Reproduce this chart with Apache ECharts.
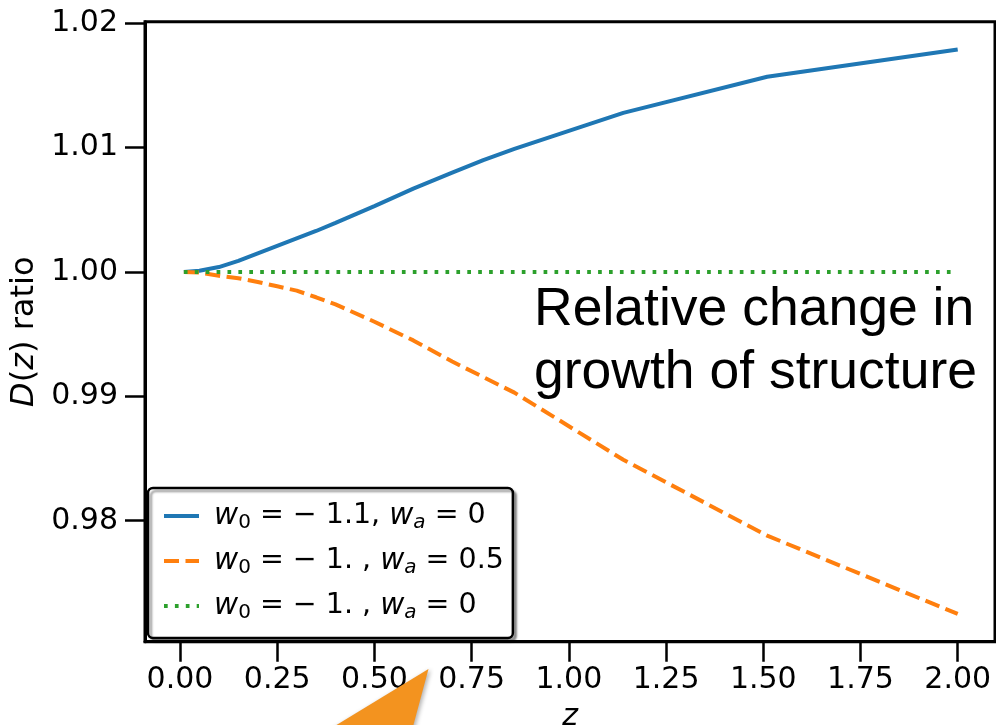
<!DOCTYPE html>
<html>
<head>
<meta charset="utf-8">
<script src="https://cdn.jsdelivr.net/npm/echarts@6/dist/echarts.min.js"></script>
<style>
  html, body { margin: 0; padding: 0; background: #fff; }
  #chart { width: 996px; height: 725px; }
</style>
</head>
<body>
<div id="chart"></div>
<script>
// Redshift samples and growth-factor ratios for the three dark-energy models
const zSamples = [0.01, 0.05, 0.1, 0.15, 0.2, 0.25, 0.3, 0.35, 0.4, 0.5, 0.6, 0.7, 0.78, 0.86, 1.14, 1.51, 2.0];
const ratioW0m11 = [1.0000, 1.0001, 1.0004, 1.0009, 1.0015, 1.0021, 1.0027, 1.0033, 1.00395, 1.0053, 1.0067, 1.0080, 1.0090, 1.0099, 1.0128, 1.0157, 1.0179];
const ratioWa05 = [1.0000, 0.99995, 0.9997, 0.9995, 0.9992, 0.99885, 0.9985, 0.99797, 0.9974, 0.9960, 0.9945, 0.9928, 0.99155, 0.9903, 0.9849, 0.9788, 0.9725];
const zFlat = [0.01, 2.0];
const ratioFlat = [1.0, 1.0];

const seriesNames = ['w0=-1.1,wa=0', 'w0=-1.,wa=0.5', 'w0=-1.,wa=0'];
const legendLabels = [
  '{m|w}{s|0}{t| = − 1.1, }{m|w}{sa|a}{t| = 0}',
  '{m|w}{s|0}{t| = − 1. , }{m|w}{sa|a}{t| = 0.5}',
  '{m|w}{s|0}{t| = − 1. , }{m|w}{sa|a}{t| = 0}'
];
const xTicks = [0, 0.25, 0.5, 0.75, 1.0, 1.25, 1.5, 1.75, 2.0];
const yTicks = [0.98, 0.99, 1.00, 1.01, 1.02];
const noteLines = ['Relative change in', 'growth of structure'];

const pairs = (xs, ys) => xs.map((x, i) => [x, ys[i]]);
const FONT = 'DejaVu Sans';
const TICK_FONT = 30;

const chart = echarts.init(document.getElementById('chart'), null, { renderer: 'canvas' });

chart.setOption({
  animation: false,
  backgroundColor: '#ffffff',
  grid: {
    left: 145, right: 1, top: 21.7, bottom: 83.3,
    outerBoundsMode: 'none', containLabel: false,
    show: true, borderColor: '#000', borderWidth: 3, backgroundColor: 'transparent'
  },
  xAxis: {
    type: 'value',
    min: -0.09, max: 2.0959,
    name: 'z',
    nameLocation: 'middle',
    nameGap: 61,
    nameTextStyle: { fontFamily: FONT, fontStyle: 'italic', fontSize: TICK_FONT, color: '#000' },
    splitLine: { show: false },
    axisLine: { show: true, onZero: false, lineStyle: { color: '#000', width: 3 } },
    axisTick: { show: true, length: 20, customValues: xTicks, lineStyle: { color: '#000', width: 2.5 } },
    axisLabel: {
      customValues: xTicks, margin: 24,
      fontFamily: FONT, fontSize: TICK_FONT, color: '#000',
      formatter: v => v.toFixed(2)
    }
  },
  yAxis: {
    type: 'value',
    min: 0.97027, max: 1.02013,
    name: '{i|D}({i|z}) ratio',
    nameLocation: 'middle',
    nameGap: 96,
    nameTextStyle: {
      fontFamily: FONT, fontSize: 32, color: '#000',
      rich: { i: { fontFamily: FONT, fontStyle: 'italic', fontSize: 32, color: '#000' } }
    },
    splitLine: { show: false },
    axisLine: { show: true, onZero: false, lineStyle: { color: '#000', width: 3 } },
    axisTick: { show: true, length: 20, customValues: yTicks, lineStyle: { color: '#000', width: 2.5 } },
    axisLabel: {
      customValues: yTicks, margin: 27,
      fontFamily: FONT, fontSize: TICK_FONT, color: '#000',
      formatter: v => v.toFixed(2)
    }
  },
  legend: {
    orient: 'vertical',
    left: 148, top: 488,
    padding: [11, 9, 15, 14],
    itemGap: 11,
    itemWidth: 35, itemHeight: 14,
    backgroundColor: '#fff',
    borderColor: '#000', borderWidth: 2.5, borderRadius: 5,
    shadowColor: 'rgba(0,0,0,0.35)', shadowBlur: 2, shadowOffsetX: 3, shadowOffsetY: 3,
    itemStyle: { opacity: 0, borderWidth: 0 },
    lineStyle: { width: 4 },
    data: seriesNames,
    formatter: name => legendLabels[seriesNames.indexOf(name)],
    textStyle: {
      fontFamily: FONT, fontSize: 28.5, color: '#000', lineHeight: 34, padding: [0, 0, 0, 10],
      rich: {
        m: { fontFamily: FONT, fontStyle: 'italic', fontSize: 29.5, lineHeight: 34, color: '#000' },
        s: { fontFamily: FONT, fontSize: 20, lineHeight: 20, verticalAlign: 'bottom', color: '#000' },
        sa: { fontFamily: FONT, fontStyle: 'italic', fontSize: 20, lineHeight: 20, verticalAlign: 'bottom', color: '#000' },
        t: { fontFamily: FONT, fontSize: 28.5, lineHeight: 34, color: '#000' }
      }
    }
  },
  series: [
    {
      name: seriesNames[0], type: 'line', symbol: 'none', z: 3,
      data: pairs(zSamples, ratioW0m11),
      lineStyle: { color: '#1f77b4', width: 4, cap: 'butt' },
      itemStyle: { color: '#1f77b4' }
    },
    {
      name: seriesNames[1], type: 'line', symbol: 'none', z: 3,
      data: pairs(zSamples, ratioWa05),
      lineStyle: { color: '#ff7f0e', width: 4, type: [15, 6.5], cap: 'butt' },
      itemStyle: { color: '#ff7f0e' }
    },
    {
      name: seriesNames[2], type: 'line', symbol: 'none', z: 3,
      data: pairs(zFlat, ratioFlat),
      lineStyle: { color: '#2ca02c', width: 4, type: [3.7, 7.2], cap: 'butt' },
      itemStyle: { color: '#2ca02c' }
    }
  ],
  graphic: [
    {
      type: 'text', left: 534, top: 279, z: 10,
      style: {
        text: noteLines.join('\n'),
        fontFamily: 'Liberation Sans', fontSize: 53.5, lineHeight: 63,
        fill: '#000', textAlign: 'left'
      }
    },
    {
      type: 'polygon', z: 10,
      shape: { points: [[428.5, 669], [279, 760], [404, 760]] },
      style: {
        fill: '#f3931f',
        shadowColor: 'rgba(0,0,0,0.3)', shadowBlur: 4, shadowOffsetX: 2, shadowOffsetY: 1
      }
    }
  ]
});
</script>
</body>
</html>
